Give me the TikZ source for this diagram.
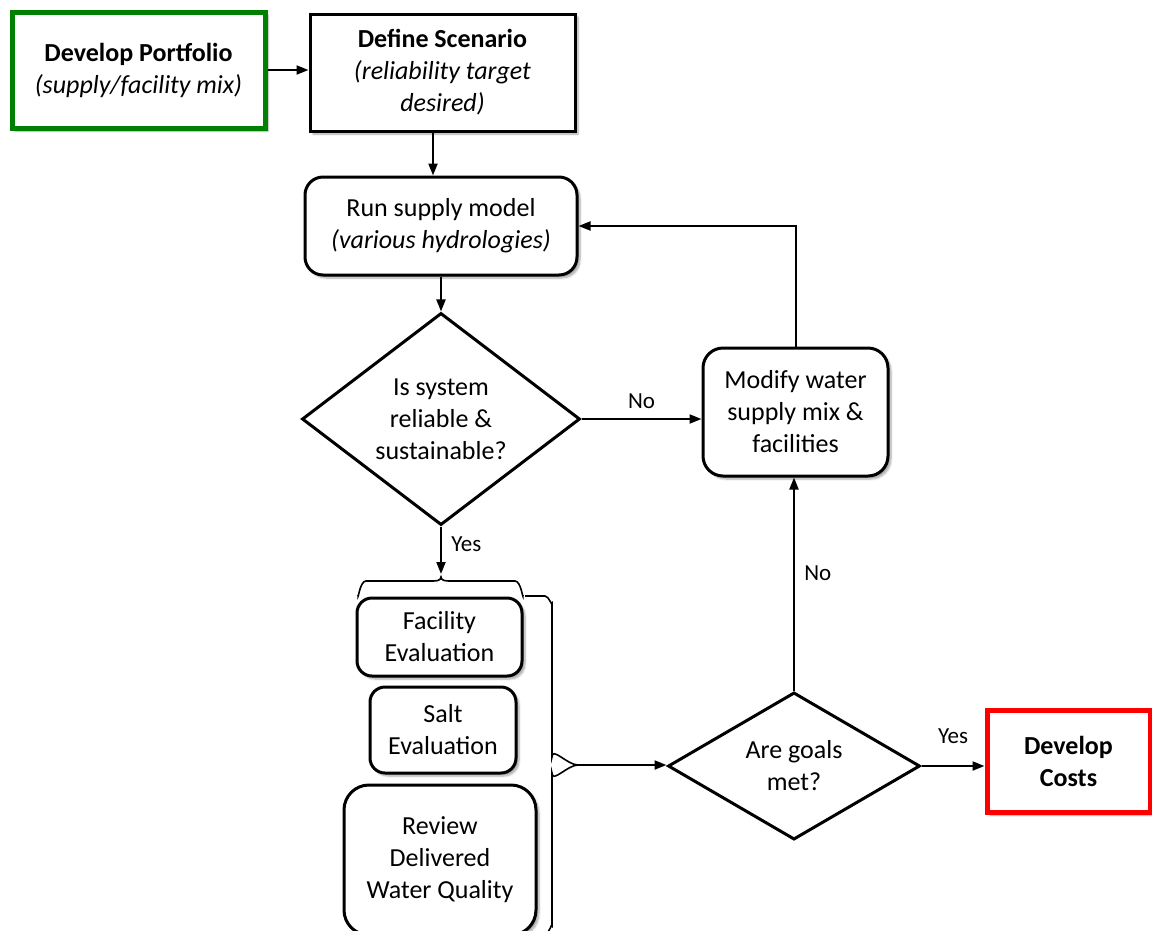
\documentclass[tikz,border=0pt]{standalone}
\usepackage{fontspec}
\setmainfont{Carlito}
\usetikzlibrary{arrows.meta,shapes.geometric,shadows.blur,decorations.pathreplacing,calc}
\definecolor{pgreen}{RGB}{0,128,0}
\definecolor{cred}{RGB}{255,0,0}
\begin{document}
\begin{tikzpicture}[x=1pt,y=-1pt,
  every node/.style={font=\fontsize{26}{32}\selectfont, align=center},
  box/.style={draw, line width=3pt, inner sep=2pt, fill=white,
    blur shadow={shadow xshift=3pt,shadow yshift=-3pt,shadow blur steps=6,shadow opacity=35}},
  rbox/.style={box, rounded corners=18pt},
  dia/.style={draw, diamond, line width=3pt, inner sep=0pt, fill=white},
  conn/.style={line width=2pt, -{Triangle[length=12pt,width=9pt]}},
  bracestyle/.style={line width=1.6pt},
  lbl/.style={font=\fontsize{23}{26}\selectfont}
]
\useasboundingbox (0,0) rectangle (1152,930);

\node[box, draw=pgreen, line width=5pt, minimum width=253pt, minimum height=116pt] (portfolio) at (138.5,70)
  {\textbf{Develop Portfolio}\\\textit{(supply/facility mix)}};
\node[box, minimum width=265pt, minimum height=117pt] (scenario) at (442.5,72.5)
  {\textbf{Define Scenario}\\\textit{(reliability target}\\\textit{desired)}};
\node[rbox, minimum width=272pt, minimum height=98pt] (run) at (441,226)
  {Run supply model\\\textit{(various hydrologies)}};
\node[dia, minimum width=278pt, minimum height=208pt] (d1) at (441,419)
  {Is system\\reliable \&\\sustainable?};
\node[rbox, rounded corners=20pt, minimum width=185pt, minimum height=128pt] (modify) at (795.5,412)
  {Modify water\\supply mix \&\\facilities};
\node[rbox, rounded corners=15pt, minimum width=165pt, minimum height=78pt] (facility) at (439.5,637)
  {Facility\\Evaluation};
\node[rbox, rounded corners=15pt, minimum width=146pt, minimum height=86pt] (salt) at (443,730)
  {Salt\\Evaluation};
\node[rbox, rounded corners=25pt, minimum width=192pt, minimum height=150pt] (review) at (440,860)
  {Review\\Delivered\\Water Quality};
\node[dia, minimum width=252pt, minimum height=145pt] (d2) at (794,766)
  {Are goals\\met?};
\node[box, draw=cred, line width=5pt, minimum width=163pt, minimum height=102pt] (costs) at (1068.5,761)
  {\textbf{Develop}\\\textbf{Costs}};

% braces
\coordinate (htip) at (441,577);
\draw[bracestyle] (358,595) to[out=-90,in=180] (366,581) -- (432,581) to[out=0,in=-90] (htip)
  to[out=-90,in=180] (450,581) -- (515,581) to[out=0,in=-90] (523,595);
\coordinate (vtip) at (578,765);
\draw[bracestyle] (525,596) -- (545,596) to[out=0,in=-90] (552,603) -- (552,757)
  to[out=90,in=180] (vtip) to[out=180,in=-90] (552,773) -- (552,926) to[out=90,in=0] (545,934) -- (525,934);

% connectors
\draw[conn] (portfolio.east) -- (portfolio.east -| scenario.west);
\coordinate (s1) at (433,131);
\draw[conn] (s1) -- (s1 |- run.north);
\draw[conn] (run.south) -- (d1.north);
\draw[conn] (d1.east) -- node[lbl, above=6pt] {No} (d1.east -| modify.west);
\draw[conn] (modify.north) |- (run.east);
\draw[conn, shorten >=3pt] (d1.south) -- node[lbl, pos=0.35, right=6pt] {Yes} (htip);
\draw[conn] (vtip) -- (vtip -| d2.west);
\draw[conn] (d2.north) -- node[lbl, pos=0.55, right=6pt] {No} (d2.north |- modify.south);
\draw[conn] (d2.east) -- node[lbl, above=18pt] {Yes} (d2.east -| costs.west);
\end{tikzpicture}
\end{document}
